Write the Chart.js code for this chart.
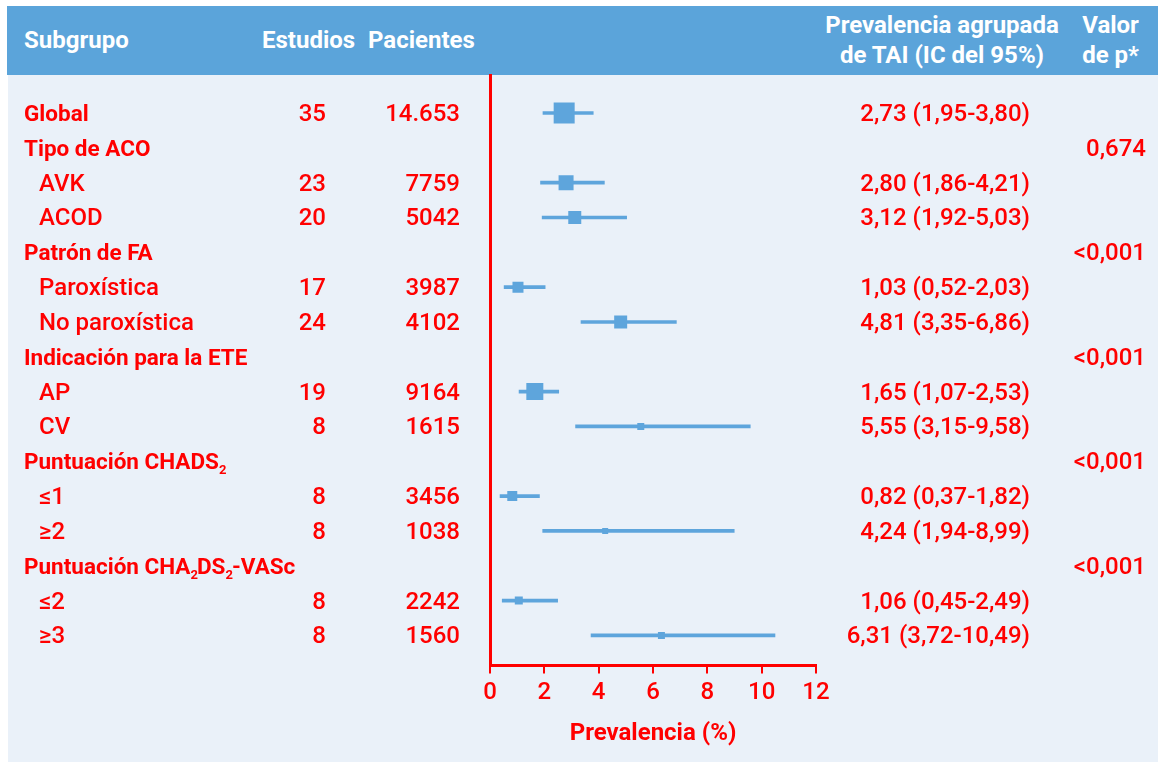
<!DOCTYPE html>
<html lang="es">
<head>
<meta charset="utf-8">
<title>Prevalencia agrupada de TAI</title>
<script src="https://cdn.jsdelivr.net/npm/chart.js@4/dist/chart.umd.min.js"></script>
<style>
    body { margin: 0; background: #fff; font-family: Roboto, "Noto Sans", sans-serif; }
    #page { position: relative; width: 1158px; height: 763px; overflow: hidden; }
    #header { position: absolute; left: 7px; top: 6px; width: 1151px; height: 69px; background: #5BA4DA; color: #fff; font-weight: 700; font-size: 24px; }
    #header div { position: absolute; line-height: 30px; }
    #panel { position: absolute; left: 8px; top: 75px; width: 1150px; height: 687px; background: #EAF1F9; }
    #chartWrap { position: absolute; left: 0; top: 0; width: 1158px; height: 763px; }
    #rows div { position: absolute; height: 34px; line-height: 34px; color: #FF0000; font-size: 24px; font-weight: 500; white-space: nowrap; }
    #rows .head { font-weight: 700; font-size: 22.5px; }
    #rows .num { text-align: right; }
    sub { font-size: 13px; vertical-align: -5px; line-height: 0; margin: 0 -1px 0 0; }
</style>
</head>
<body>
<div id="page">
    <div id="header">
        <div style="left:17px; top:19px;">Subgrupo</div>
        <div style="left:255px; top:19px;">Estudios</div>
        <div style="left:361px; top:19px;">Pacientes</div>
        <div style="left:815px; width:240px; top:4px; text-align:center;">Prevalencia agrupada<br>de TAI (IC del 95%)</div>
        <div style="right:19px; top:4px; text-align:center;">Valor<br>de p*</div>
    </div>
    <div id="panel"></div>
    <div id="chartWrap"><canvas id="forestChart"></canvas></div>
    <div id="rows"></div>
</div>
<script>
const subgroups = ['Global', 'Tipo de ACO', 'AVK', 'ACOD', 'Patrón de FA', 'Paroxística', 'No paroxística',
    'Indicación para la ETE', 'AP', 'CV', 'Puntuación CHADS<sub>2</sub>', '≤1', '≥2',
    'Puntuación CHA<sub>2</sub>DS<sub>2</sub>-VASc', '≤2', '≥3'];
const isHeading = [true, true, false, false, true, false, false, true, false, false, true, false, false, true, false, false];
const estudios = [35, null, 23, 20, null, 17, 24, null, 19, 8, null, 8, 8, null, 8, 8];
const pacientes = ['14.653', null, '7759', '5042', null, '3987', '4102', null, '9164', '1615', null, '3456', '1038', null, '2242', '1560'];
const prevalencia = [2.73, null, 2.80, 3.12, null, 1.03, 4.81, null, 1.65, 5.55, null, 0.82, 4.24, null, 1.06, 6.31];
const icInferior = [1.95, null, 1.86, 1.92, null, 0.52, 3.35, null, 1.07, 3.15, null, 0.37, 1.94, null, 0.45, 3.72];
const icSuperior = [3.80, null, 4.21, 5.03, null, 2.03, 6.86, null, 2.53, 9.58, null, 1.82, 8.99, null, 2.49, 10.49];
const valorP = [null, '0,674', null, null, '<0,001', null, null, '<0,001', null, null, '<0,001', null, null, '<0,001', null, null];
const xTicks = [0, 2, 4, 6, 8, 10, 12];

// marker side in px (study weight)
const markerSide = [21, 0, 15, 13, 0, 11, 13, 0, 17, 7, 0, 10, 6, 0, 8, 7];

const RED = '#FF0000';
const BLUE = '#5EA5DC';

const fmt = v => v.toFixed(2).replace('.', ',');

const ciData = [];
const pointData = [];
const pointRadius = [];
subgroups.forEach((_, i) => {
    if (prevalencia[i] == null) return;
    ciData.push({ x: [icInferior[i], icSuperior[i]], y: i });
    pointData.push({ x: prevalencia[i], y: i });
    pointRadius.push(markerSide[i] / Math.SQRT2);
});

const chart = new Chart(document.getElementById('forestChart'), {
    type: 'bar',
    data: {
        datasets: [
            {
                type: 'bar',
                data: ciData,
                backgroundColor: BLUE,
                borderWidth: 0,
                barThickness: 3,
                order: 2
            },
            {
                type: 'scatter',
                data: pointData,
                pointStyle: 'rect',
                pointRadius: pointRadius,
                pointHoverRadius: pointRadius,
                backgroundColor: BLUE,
                borderWidth: 0,
                order: 1
            }
        ]
    },
    options: {
        indexAxis: 'y',
        responsive: true,
        maintainAspectRatio: false,
        animation: false,
        events: [],
        layout: {
            padding: { left: 490, right: 342, top: 75, bottom: 15 }
        },
        plugins: {
            legend: { display: false },
            tooltip: { enabled: false }
        },
        scales: {
            x: {
                type: 'linear',
                min: 0,
                max: 12,
                afterBuildTicks: axis => { axis.ticks = xTicks.map(v => ({ value: v })); },
                grid: {
                    drawOnChartArea: false,
                    drawTicks: true,
                    tickLength: 8,
                    color: RED,
                    lineWidth: 2
                },
                border: { display: true, color: RED, width: 3 },
                ticks: {
                    color: RED,
                    padding: 5,
                    font: { family: 'Roboto', size: 24, weight: '500' }
                },
                title: {
                    display: true,
                    text: 'Prevalencia (%)',
                    color: RED,
                    padding: { top: 7, bottom: 0 },
                    font: { family: 'Roboto', size: 24, weight: 'bold' }
                }
            },
            y: {
                type: 'linear',
                reverse: true,
                offset: false,
                min: -1.09,
                max: 15.86,
                grid: { drawOnChartArea: false, drawTicks: false, offset: false },
                border: { display: true, color: RED, width: 3 },
                ticks: { display: false }
            }
        }
    }
});

// table columns, placed on the rows of the chart's y scale
const rowsDiv = document.getElementById('rows');
const addCell = (html, cls, style) => {
    const d = document.createElement('div');
    d.className = cls;
    d.innerHTML = html;
    Object.assign(d.style, style);
    rowsDiv.appendChild(d);
};
subgroups.forEach((label, i) => {
    const top = (chart.scales.y.getPixelForValue(i) - 17) + 'px';
    addCell(label, isHeading[i] ? 'head' : '', { left: (isHeading[i] ? 24 : 39) + 'px', top });
    if (estudios[i] != null) addCell(String(estudios[i]), 'num', { left: '250px', width: '76px', top });
    if (pacientes[i] != null) addCell(pacientes[i], 'num', { left: '360px', width: '100px', top });
    if (prevalencia[i] != null) {
        addCell(`${fmt(prevalencia[i])} (${fmt(icInferior[i])}-${fmt(icSuperior[i])})`, 'num',
            { left: '800px', width: '230px', top });
    }
    if (valorP[i] != null) addCell(valorP[i], 'num', { left: '1046px', width: '100px', top });
});
</script>
</body>
</html>
